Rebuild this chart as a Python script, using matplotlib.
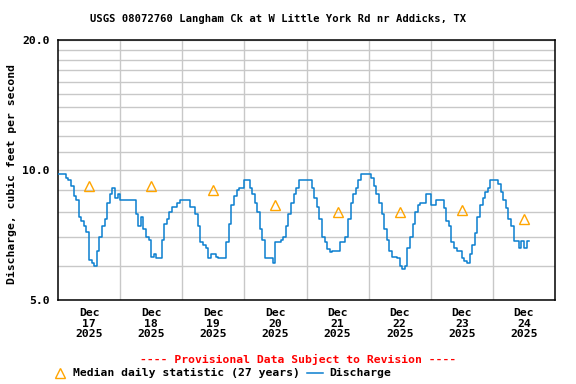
import matplotlib
matplotlib.use('Agg')
import matplotlib.pyplot as plt
import numpy as np
from matplotlib.ticker import FixedLocator, NullFormatter, FixedFormatter
from matplotlib.lines import Line2D

# Hourly discharge (cfs), starting Dec 17 2025 00:00
d17 = [9.8, 9.8, 9.8, 9.6, 9.5, 9.2, 8.7, 8.5, 7.8, 7.6, 7.4, 7.2, 6.2, 6.1, 6.0, 6.5, 7.0, 7.4, 7.7, 8.4, 8.8, 9.1, 8.6, 8.8]
d18 = [8.5, 8.5, 8.5, 8.5, 8.5, 8.5, 7.9, 7.4, 7.8, 7.3, 7.0, 6.9, 6.3, 6.4, 6.25, 6.25, 6.9, 7.5, 7.7, 8.0, 8.2, 8.2, 8.4, 8.5]
d19 = [8.5, 8.5, 8.5, 8.2, 8.2, 7.9, 7.4, 6.8, 6.7, 6.6, 6.25, 6.4, 6.4, 6.3, 6.25, 6.25, 6.25, 6.8, 7.5, 8.3, 8.7, 9.0, 9.1, 9.1]
d20 = [9.5, 9.5, 9.1, 8.8, 8.4, 8.0, 7.3, 6.9, 6.25, 6.25, 6.25, 6.1, 6.8, 6.8, 6.9, 7.0, 7.4, 7.9, 8.4, 8.8, 9.1, 9.5, 9.5, 9.5]
d21 = [9.5, 9.5, 9.1, 8.6, 8.2, 7.7, 7.0, 6.8, 6.55, 6.45, 6.5, 6.5, 6.5, 6.8, 6.8, 7.0, 7.7, 8.4, 8.8, 9.1, 9.5, 9.8, 9.8, 9.8]
d22 = [9.8, 9.6, 9.2, 8.8, 8.4, 7.9, 7.3, 6.9, 6.5, 6.3, 6.3, 6.25, 6.0, 5.9, 6.0, 6.6, 7.0, 7.5, 8.0, 8.3, 8.4, 8.4, 8.8, 8.8]
d23 = [8.3, 8.3, 8.5, 8.5, 8.5, 8.15, 7.6, 7.4, 6.8, 6.6, 6.5, 6.5, 6.25, 6.15, 6.1, 6.4, 6.7, 7.15, 7.8, 8.3, 8.6, 8.9, 9.1, 9.5]
d24 = [9.5, 9.5, 9.3, 8.9, 8.5, 8.15, 7.7, 7.4, 6.85, 6.85, 6.6, 6.85, 6.6, 6.85, 6.85]

medians = [9.2, 9.2, 9.0, 8.3, 8.0, 8.0, 8.1, 7.7]
day_labels = ["Dec\n17\n2025", "Dec\n18\n2025", "Dec\n19\n2025", "Dec\n20\n2025",
              "Dec\n21\n2025", "Dec\n22\n2025", "Dec\n23\n2025", "Dec\n24\n2025"]
y_major = [5, 10, 20]
y_major_labels = ["5.0", "10.0", "20.0"]

discharge = d17 + d18 + d19 + d20 + d21 + d22 + d23 + d24
t = np.arange(len(discharge)) / 24.0

FONT = 'DejaVu Sans Mono'
FS = 8.2
BLUE = '#0a7fcf'
ORANGE = '#FFA500'

fig = plt.figure(figsize=(5.76, 3.84), dpi=100)
ax = fig.add_axes([58/576, 84/384, 497/576, 260/384])
ax.set_yscale('log')
ax.set_ylim(5, 20)
ax.set_xlim(0, 8)

ax.plot(t, discharge, drawstyle='steps-post', color=BLUE, lw=1.1, zorder=3)
ax.plot(np.arange(len(medians)) + 0.5, medians, ls='none', marker='^', ms=7,
        mfc='none', mec=ORANGE, mew=1.0, zorder=4)

ax.yaxis.set_major_locator(FixedLocator(y_major))
ax.yaxis.set_major_formatter(FixedFormatter(y_major_labels))
ax.yaxis.set_minor_locator(FixedLocator([v for v in range(6, 20) if v != 10]))
ax.yaxis.set_minor_formatter(NullFormatter())

ax.xaxis.set_major_locator(FixedLocator(np.arange(8) + 0.5))
ax.xaxis.set_major_formatter(FixedFormatter(day_labels))
ax.xaxis.set_minor_locator(FixedLocator(np.arange(1, 8)))

ax.set_axisbelow(True)
ax.grid(which='both', axis='y', color='#c8c8c8', lw=1.0)
ax.grid(which='minor', axis='x', color='#c8c8c8', lw=1.0)
ax.tick_params(which='both', length=0)
ax.tick_params(axis='y', pad=6)
ax.tick_params(axis='x', pad=6)
for lab in ax.get_xticklabels() + ax.get_yticklabels():
    lab.set_fontfamily(FONT)
    lab.set_fontweight('bold')
    lab.set_fontsize(FS)
for lab in ax.get_xticklabels():
    lab.set_linespacing(1.05)
for sp in ax.spines.values():
    sp.set_linewidth(1.1)
    sp.set_color('black')

fig.text(278/576, 1 - 19/384, "USGS 08072760 Langham Ck at W Little York Rd nr Addicks, TX",
         ha='center', va='center', fontfamily=FONT, fontweight='bold', fontsize=7.6)
fig.text(11.7/576, 1 - 174/384, "Discharge, cubic feet per second", rotation=90,
         ha='center', va='center', fontfamily=FONT, fontweight='bold', fontsize=FS)
fig.text(298/576, 1 - 359/384, "---- Provisional Data Subject to Revision ----",
         ha='center', va='center', color='red', fontfamily=FONT, fontweight='bold', fontsize=FS)

ly = 1 - 372.7/384
fig.add_artist(Line2D([60/576], [ly], transform=fig.transFigure, marker='^', ms=7,
                      mfc='none', mec=ORANGE, mew=1.0, ls='none'))
fig.text(73.3/576, ly, "Median daily statistic (27 years)", ha='left', va='center',
         fontfamily=FONT, fontweight='bold', fontsize=FS)
fig.add_artist(Line2D([306.7/576, 323.3/576], [ly, ly], transform=fig.transFigure,
                      color=BLUE, lw=1.1))
fig.text(329.3/576, ly, "Discharge", ha='left', va='center',
         fontfamily=FONT, fontweight='bold', fontsize=FS)

fig.savefig('out.png', dpi=100)
